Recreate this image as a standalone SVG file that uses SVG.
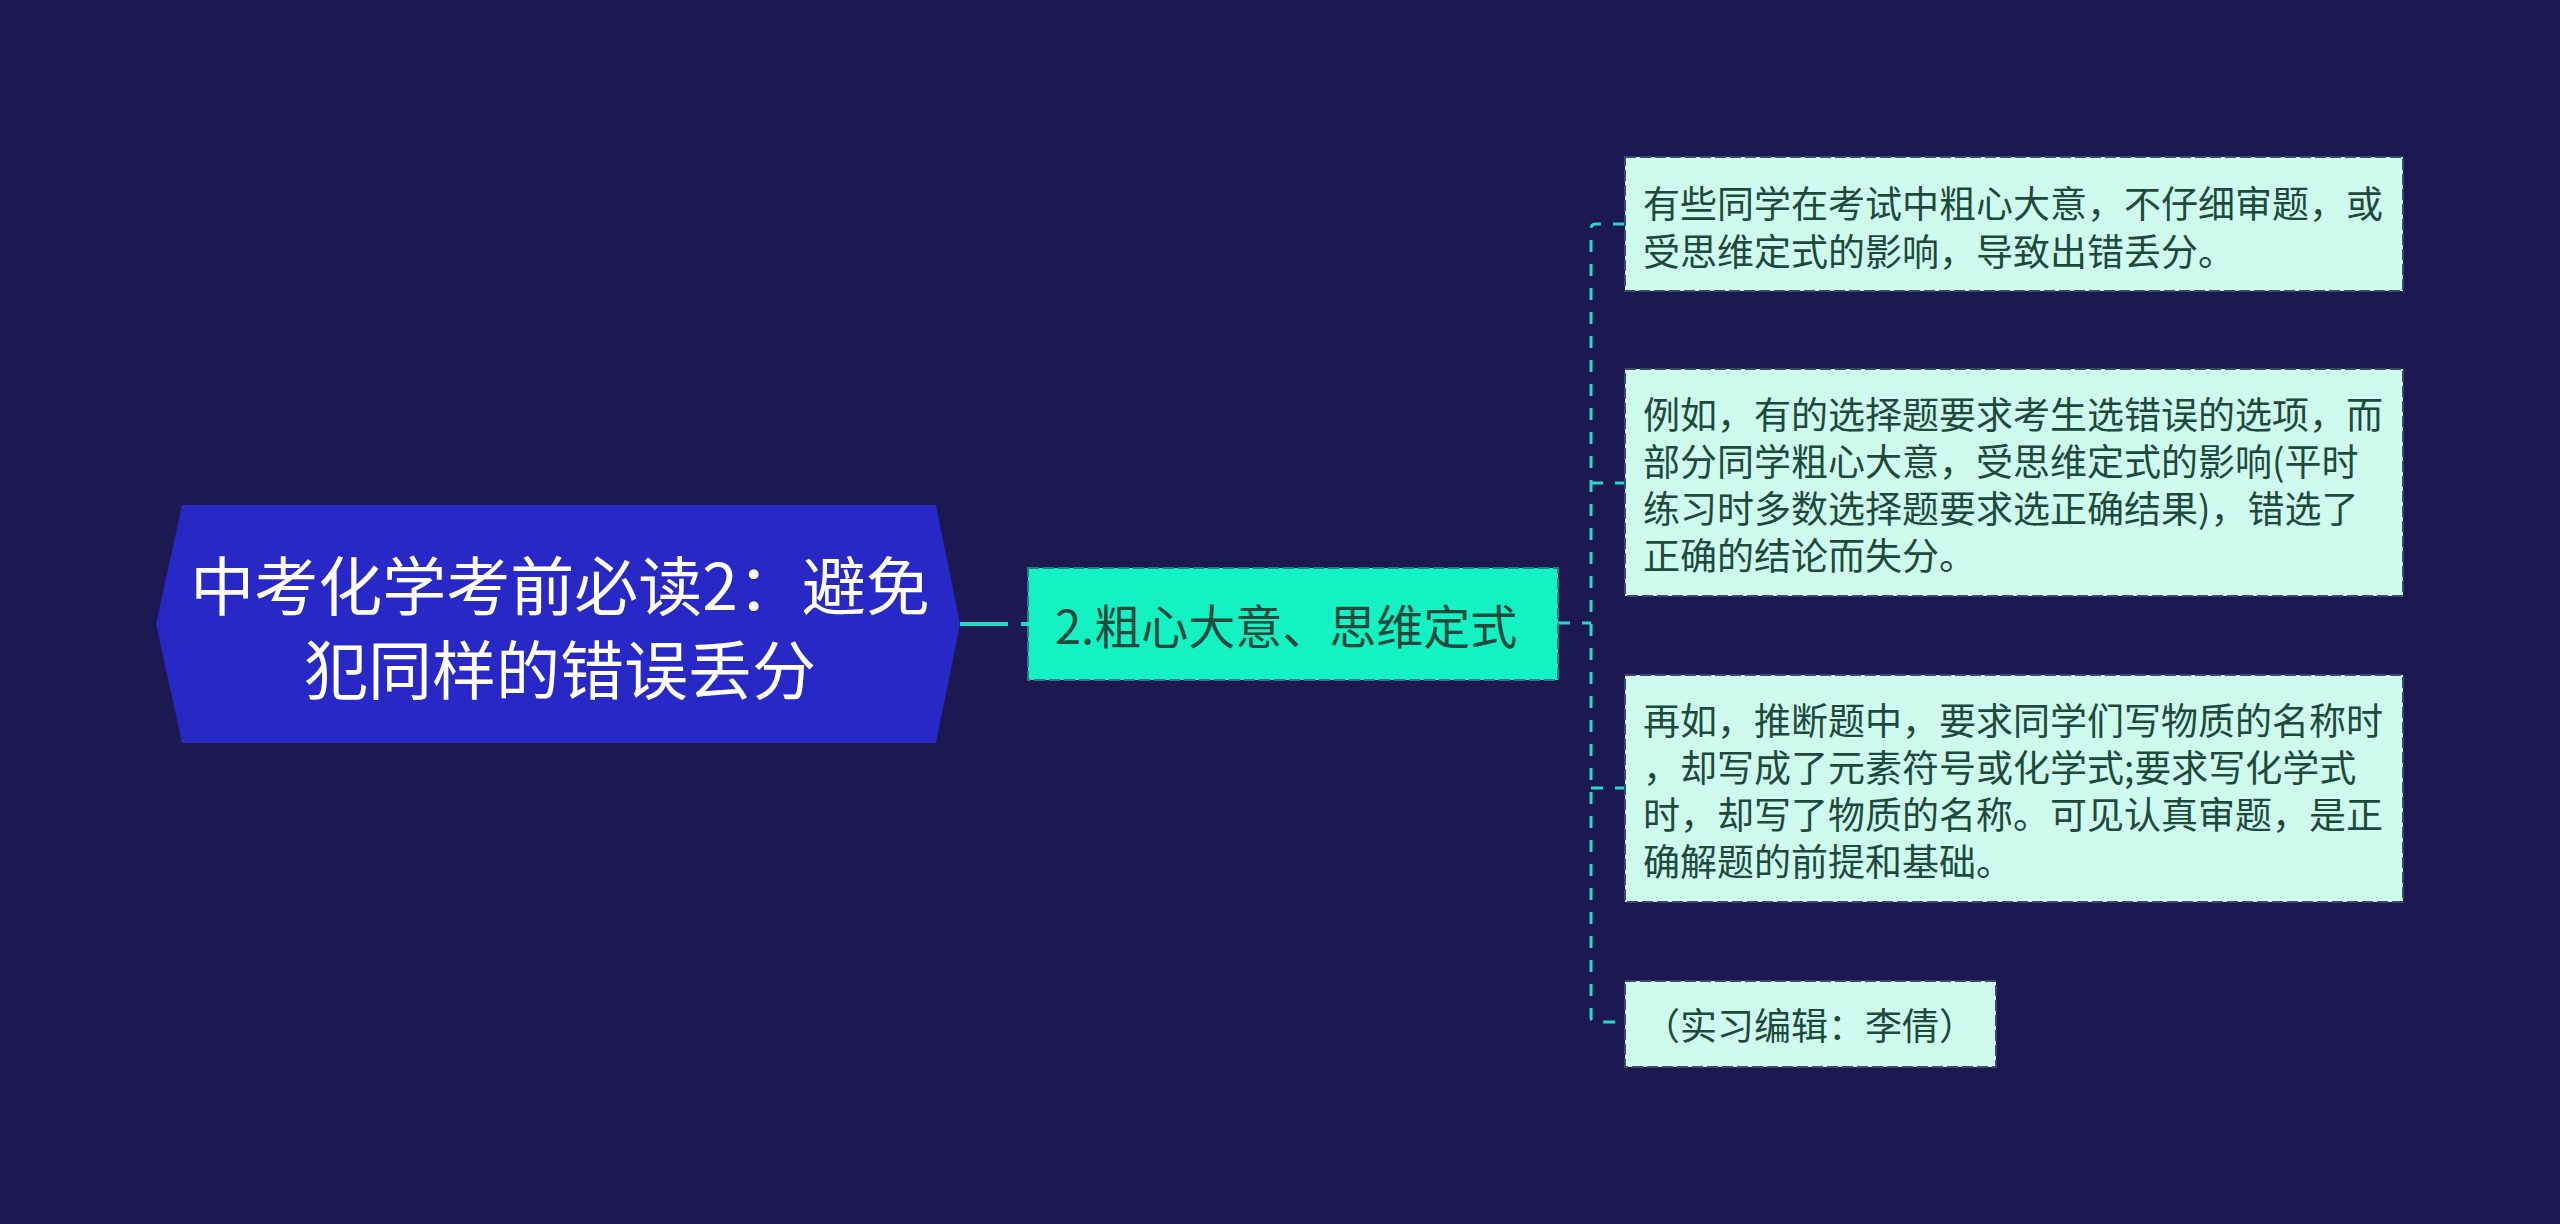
<svg xmlns="http://www.w3.org/2000/svg" width="2560" height="1224" viewBox="0 0 2560 1224">
<style>
.t{font-family:"Noto Sans CJK SC","Noto Sans",sans-serif;dominant-baseline:central}
.root-t{fill:#ffffff;font-size:64px;text-anchor:middle}
.mid-t{fill:#1d4a3c;font-size:47px}
.leaf-t{fill:#1d4a3c;font-size:37px}
.leaf{fill:#cffaee;stroke:#3b4a6a;stroke-width:2;stroke-dasharray:11 4}
.mid{fill:#14f2c4;stroke:#2a7a86;stroke-width:2;stroke-dasharray:11 4}
.con{fill:none;stroke:#2ad8c8;stroke-width:3;stroke-dasharray:12 12}
</style>
<rect width="2560" height="1224" fill="#1b1852"/>
<g id="connectors">
<path d="M960,624 H1008 M1021,624 H1028" fill="none" stroke="#2ad8c8" stroke-width="4"/>
<path class="con" d="M1558,623 H1591"/>
<path class="con" d="M1625,224 H1596 Q1591,224 1591,229 V1017 Q1591,1022 1596,1022 H1624"/>
<path class="con" d="M1591,483 H1625"/>
<path class="con" d="M1591,788 H1625"/>
</g>
<g id="root">
<polygon points="182,505 936,505 960,624 936,743 182,743 156,624" fill="#2828c6"/>
<text class="t root-t" x="560" y="582">中考化学考前必读2：避免</text>
<text class="t root-t" x="560" y="666">犯同样的错误丢分</text>
</g>
<g id="mid">
<rect class="mid" x="1028" y="568" width="530" height="112"/>
<text class="t mid-t" x="1055" y="623">2.粗心大意、思维定式</text>
</g>
<g id="leaf1">
<rect class="leaf" x="1625" y="157" width="778" height="134"/>
<text class="t leaf-t" x="1643" y="202">有些同学在考试中粗心大意，不仔细审题，或</text>
<text class="t leaf-t" x="1643" y="250">受思维定式的影响，导致出错丢分。</text>
</g>
<g id="leaf2">
<rect class="leaf" x="1625" y="369" width="778" height="227"/>
<text class="t leaf-t" x="1643" y="413">例如，有的选择题要求考生选错误的选项，而</text>
<text class="t leaf-t" x="1643" y="460">部分同学粗心大意，受思维定式的影响(平时</text>
<text class="t leaf-t" x="1643" y="507">练习时多数选择题要求选正确结果)，错选了</text>
<text class="t leaf-t" x="1643" y="554">正确的结论而失分。</text>
</g>
<g id="leaf3">
<rect class="leaf" x="1625" y="675" width="778" height="227"/>
<text class="t leaf-t" x="1643" y="719">再如，推断题中，要求同学们写物质的名称时</text>
<text class="t leaf-t" x="1643" y="766">，却写成了元素符号或化学式;要求写化学式</text>
<text class="t leaf-t" x="1643" y="813">时，却写了物质的名称。可见认真审题，是正</text>
<text class="t leaf-t" x="1643" y="860">确解题的前提和基础。</text>
</g>
<g id="leaf4">
<rect class="leaf" x="1625" y="981" width="371" height="86"/>
<text class="t leaf-t" x="1643" y="1024">（实习编辑：李倩）</text>
</g>
</svg>
